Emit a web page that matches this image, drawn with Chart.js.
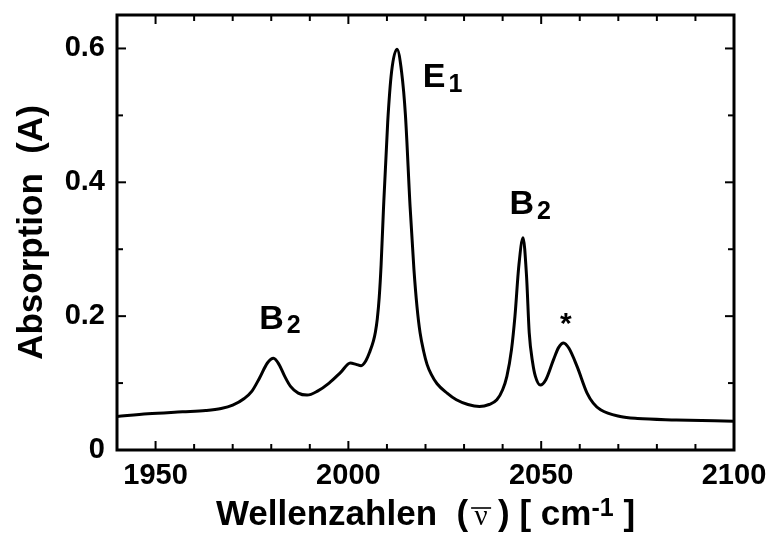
<!DOCTYPE html>
<html>
<head>
<meta charset="utf-8">
<script src="https://cdn.jsdelivr.net/npm/chart.js@4.4.0/dist/chart.umd.min.js"></script>
<style>
  html, body { margin: 0; padding: 0; background: #fff; }
  #wrap { width: 769px; height: 546px; }
</style>
</head>
<body>
<div id="wrap"><canvas id="spectrum"></canvas></div>
<script>
// IR spectrum
const wavenumbers = [
  1940, 1948, 1957, 1963, 1967, 1970, 1973, 1975, 1977, 1979,
  1980.6, 1982, 1983.5, 1985, 1987, 1989.3, 1992, 1995, 1998, 2000.5,
  2002, 2003.3, 2004.5, 2005.5, 2006.5, 2007, 2007.5, 2008, 2008.5, 2009.1,
  2010.2, 2011.2, 2012.6, 2013.8, 2014.8, 2016, 2017, 2017.8, 2018.6, 2019.5,
  2020.4, 2021.5, 2023, 2025.6, 2028, 2031, 2034, 2036.5, 2038.5, 2040,
  2041.1, 2042.3, 2043.2, 2044.2, 2045.3, 2046.2, 2046.9, 2047.8, 2048.5, 2049.8,
  2051.2, 2053.2, 2054.5, 2055.8, 2057.2, 2059.3, 2061.9, 2063.5, 2065.4, 2070.5,
  2075, 2085, 2100
];
const absorbance = [
  0.050, 0.054, 0.057, 0.059, 0.062, 0.067, 0.077, 0.088, 0.108, 0.130,
  0.137, 0.128, 0.110, 0.095, 0.085, 0.082, 0.088, 0.100, 0.116, 0.130,
  0.128, 0.126, 0.133, 0.146, 0.163, 0.176, 0.196, 0.228, 0.278, 0.360,
  0.490, 0.565, 0.599, 0.565, 0.500, 0.364, 0.270, 0.214, 0.175, 0.148,
  0.128, 0.113, 0.099, 0.085, 0.075, 0.068, 0.065, 0.068, 0.075, 0.090,
  0.110, 0.150, 0.200, 0.275, 0.317, 0.260, 0.175, 0.130, 0.110, 0.097,
  0.105, 0.135, 0.153, 0.160, 0.152, 0.125, 0.085, 0.070, 0.060, 0.050,
  0.047, 0.045, 0.043
];

const xTickLabels = [1950, 2000, 2050, 2100];
const xMinorTicks = [1940, 1950, 1960, 1970, 1980, 1990, 2000, 2010, 2020, 2030,
  2040, 2050, 2060, 2070, 2080, 2090, 2100];
const yTickLabels = [0, 0.2, 0.4, 0.6];
const yMinorTicks = [0, 0.1, 0.2, 0.3, 0.4, 0.5, 0.6];

const bandLabels = [
  { name: 'E', sub: '1', at: 2019.3, level: 0.542 },
  { name: 'B', sub: '2', at: 1976.9, level: 0.181 },
  { name: 'B', sub: '2', at: 2041.8, level: 0.352 },
  { name: '*', sub: '', at: 2056.4, level: 0.175 }
];

const sans = '"Liberation Sans", Arial, sans-serif';
const serif = '"Liberation Serif", "Times New Roman", serif';

const frameAndText = {
  id: 'frameAndText',
  afterDraw(chart) {
    const { ctx, chartArea: a, scales: { x, y } } = chart;
    const line = (x1, y1, x2, y2) => {
      ctx.beginPath(); ctx.moveTo(x1, y1); ctx.lineTo(x2, y2); ctx.stroke();
    };
    ctx.save();
    ctx.strokeStyle = '#000';
    ctx.fillStyle = '#000';

    // inward ticks on all four sides
    ctx.lineWidth = 2;
    xMinorTicks.forEach(v => {
      const px = x.getPixelForValue(v);
      const len = xTickLabels.includes(v) ? 9 : 6;
      line(px, a.bottom, px, a.bottom - len);
      line(px, a.top, px, a.top + len);
    });
    yMinorTicks.forEach(v => {
      const py = y.getPixelForValue(v);
      const len = yTickLabels.includes(v) ? 9 : 6;
      line(a.left, py, a.left + len, py);
      line(a.right, py, a.right - len, py);
    });

    ctx.lineWidth = 3;
    ctx.strokeRect(a.left, a.top, a.right - a.left, a.bottom - a.top);

    // band assignments
    ctx.textBaseline = 'alphabetic';
    ctx.textAlign = 'left';
    bandLabels.forEach(b => {
      const px = x.getPixelForValue(b.at);
      const py = y.getPixelForValue(b.level);
      if (b.name === '*') {
        ctx.font = 'bold 30px ' + sans;
        ctx.textAlign = 'center';
        ctx.fillText(b.name, px, py);
        ctx.textAlign = 'left';
        return;
      }
      ctx.font = 'bold 34px ' + sans;
      ctx.fillText(b.name, px, py);
      const w = ctx.measureText(b.name).width;
      ctx.font = 'bold 25px ' + sans;
      ctx.fillText(b.sub, px + w + 3, py + 4.5);
    });

    // x axis title with nu-bar and superscript
    const big = 'bold 35px ' + sans;
    const parts = [
      { t: 'Wellenzahlen  (', font: big, dy: 0 },
      { t: 'ν', font: '29px ' + serif, dy: 0, box: 30, bar: true },
      { t: ') [ cm', font: big, dy: 0 },
      { t: '-1', font: 'bold 25px ' + sans, dy: -9 },
      { t: ' ]', font: big, dy: 0 }
    ];
    let total = 0;
    parts.forEach(p => {
      ctx.font = p.font;
      p.w = p.box || ctx.measureText(p.t).width;
      total += p.w;
    });
    const base = 525;
    let cx = (a.left + a.right) / 2 - total / 2;
    parts.forEach(p => {
      ctx.font = p.font;
      if (p.box) {
        ctx.textAlign = 'center';
        const mid = cx + p.w / 2 - 2;
        ctx.fillText(p.t, mid, base + p.dy);
        if (p.bar) {
          ctx.lineWidth = 1.6;
          line(mid - 10, base - 17, mid + 10, base - 17);
        }
        ctx.textAlign = 'left';
      } else {
        ctx.fillText(p.t, cx, base + p.dy);
      }
      cx += p.w;
    });

    // y axis title
    ctx.translate(42, (a.top + a.bottom) / 2);
    ctx.rotate(-Math.PI / 2);
    ctx.textAlign = 'center';
    ctx.font = big;
    ctx.fillText('Absorption  (A)', 0, 0);
    ctx.restore();
  }
};

new Chart(document.getElementById('spectrum'), {
  type: 'line',
  data: {
    datasets: [{
      data: wavenumbers.map((w, i) => ({ x: w, y: absorbance[i] })),
      borderColor: '#000',
      borderWidth: 3,
      pointRadius: 0,
      fill: false,
      cubicInterpolationMode: 'monotone'
    }]
  },
  options: {
    responsive: true,
    maintainAspectRatio: false,
    animation: false,
    layout: { padding: { left: 0, top: 15, right: 35, bottom: 0 } },
    plugins: { legend: { display: false }, tooltip: { enabled: false } },
    scales: {
      x: {
        type: 'linear',
        min: 1940,
        max: 2100,
        grid: { display: false, drawTicks: false },
        border: { display: false },
        afterBuildTicks: s => { s.ticks = xTickLabels.map(v => ({ value: v })); },
        afterFit: s => { s.height = 96; s.paddingLeft = 0; s.paddingRight = 0; },
        ticks: {
          color: '#000',
          padding: 9,
          maxRotation: 0,
          autoSkip: false,
          font: { family: sans, size: 29, weight: 'bold' },
          callback: v => String(v)
        }
      },
      y: {
        min: 0,
        max: 0.65,
        grid: { display: false, drawTicks: false },
        border: { display: false },
        afterBuildTicks: s => { s.ticks = yTickLabels.map(v => ({ value: v })); },
        afterFit: s => { s.width = 117; s.paddingTop = 0; s.paddingBottom = 0; },
        ticks: {
          color: '#000',
          padding: 12,
          font: { family: sans, size: 29, weight: 'bold' },
          callback: v => String(v)
        }
      }
    }
  },
  plugins: [frameAndText]
});
</script>
</body>
</html>
